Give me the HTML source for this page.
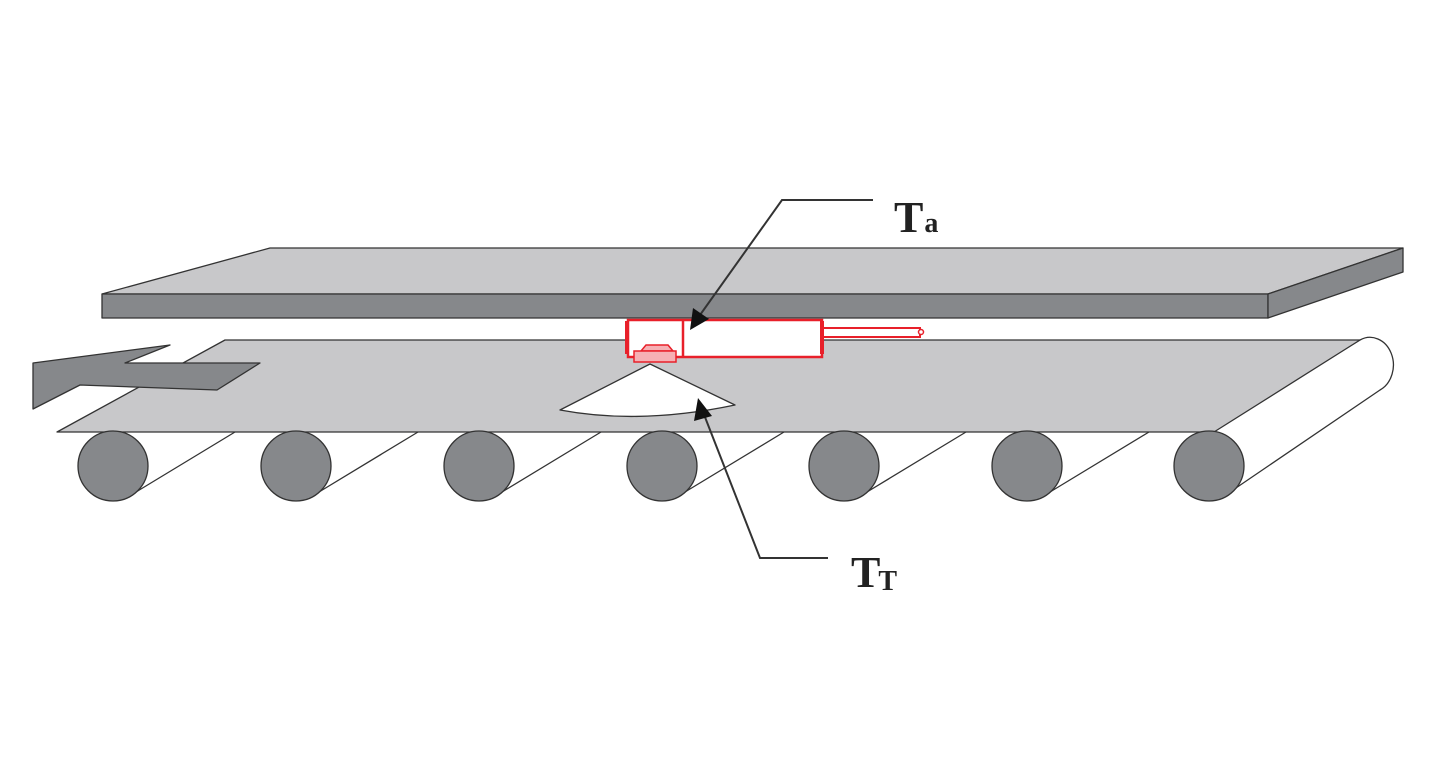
<!DOCTYPE html>
<html><head><meta charset="utf-8"><style>html,body{margin:0;padding:0;background:#fff}svg{display:block}</style></head>
<body>
<svg width="1444" height="784" viewBox="0 0 1444 784" xmlns="http://www.w3.org/2000/svg">
<defs>
<marker id="ah" markerWidth="10" markerHeight="10" refX="9" refY="5" orient="auto" markerUnits="userSpaceOnUse" viewBox="0 0 10 10">
</marker>
</defs>
<g stroke="#333" stroke-width="1.3" stroke-linejoin="round">
<!-- top plate -->
<polygon points="270,248 1403,248 1268,294 102,294" fill="#c8c8ca"/>
<polygon points="102,294 1268,294 1268,318 102,318" fill="#86888b"/>
<polygon points="1268,294 1403,248 1403,272 1268,318" fill="#86888b"/>
<!-- right roller cylinder -->
<path d="M1210,431 L1360,340 A22,26 0 0 1 1380,390 L1233,490 Z" fill="#fff"/>
<!-- belt -->
<polygon points="225,340 1360,340 1214,432 57,432" fill="#c8c8ca"/>
<!-- roller tangent lines -->
<g fill="none">
<line x1="136" y1="492" x2="235" y2="432"/>
<line x1="319" y1="492" x2="418" y2="432"/>
<line x1="502" y1="492" x2="601" y2="432"/>
<line x1="685" y1="492" x2="784" y2="432"/>
<line x1="867" y1="492" x2="966" y2="432"/>
<line x1="1050" y1="492" x2="1149" y2="432"/>
</g>
<g fill="#86888b">
<circle cx="113" cy="466" r="35"/>
<circle cx="296" cy="466" r="35"/>
<circle cx="479" cy="466" r="35"/>
<circle cx="662" cy="466" r="35"/>
<circle cx="844" cy="466" r="35"/>
<circle cx="1027" cy="466" r="35"/>
<circle cx="1209" cy="466" r="35"/>
</g>
<!-- direction arrow -->
<polygon points="33,363 170,345 125,363 260,363 217,390 80,385 33,409" fill="#86888b"/>
<!-- cone -->
<path d="M650,364 L560,410 Q640,425 735,405 Z" fill="#fff"/>
</g>
<!-- red sensor -->
<g stroke="#e8202a" stroke-width="2.5" fill="#fff">
<rect x="628" y="320" width="194" height="37"/>
<line x1="683" y1="320" x2="683" y2="357"/>
<rect x="822" y="328" width="98" height="9" stroke-width="2"/>
<circle cx="921" cy="332" r="2.5" stroke-width="1.5"/>
<line x1="627" y1="321" x2="627" y2="354" stroke-width="4"/>
<line x1="822" y1="321" x2="822" y2="354" stroke-width="4"/>
<path d="M641,351 L646,345 L668,345 L673,351 Z" fill="#f6b0b4" stroke-width="1.5"/>
<rect x="634" y="351" width="42" height="11" fill="#f6b0b4" stroke-width="1.5"/>
</g>
<!-- leader lines -->
<g stroke="#333" stroke-width="2" fill="none">
<polyline points="873,200 782,200 700,315"/>
<polyline points="828,558 760,558 703,412"/>
</g>
<polygon points="690,330 693,308 709,319" fill="#111"/>
<polygon points="698,398 694,421 712,416" fill="#111"/>
<g font-family="'Liberation Serif',serif" font-weight="bold" fill="#222">
<text x="894" y="232" font-size="44">T<tspan font-size="28" dx="1">a</tspan></text>
<text x="851" y="587" font-size="44">T<tspan font-size="28" dy="3" dx="-2">T</tspan></text>
</g>
</svg>
</body></html>
